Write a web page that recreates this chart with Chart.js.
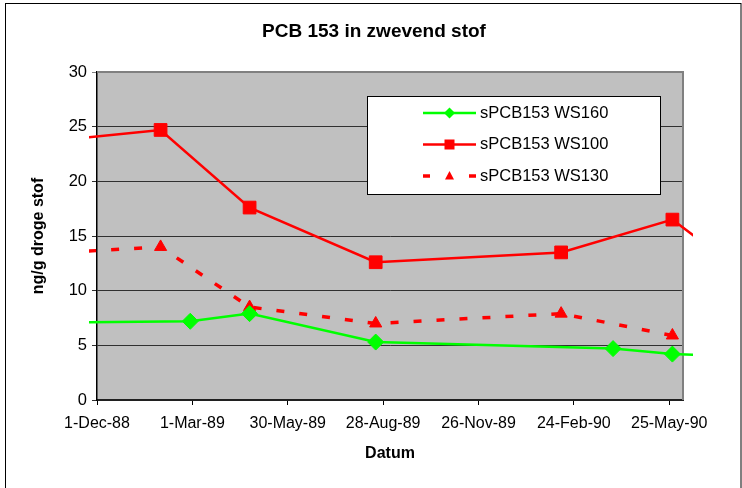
<!DOCTYPE html>
<html>
<head>
<meta charset="utf-8">
<script src="https://cdn.jsdelivr.net/npm/chart.js@4.4.1/dist/chart.umd.min.js"></script>
<style>
  body { margin: 0; background: #fff; }
  canvas { display: block; }
</style>
</head>
<body>
<canvas id="chart" width="742" height="488"></canvas>
<script>
// Series data (dates outside the axis range only give the clipped line ends)
const ws160Dates = ['1988-11-01', '1989-02-27', '1989-04-24', '1989-08-21', '1990-04-02', '1990-05-28', '1990-07-04'];
const ws160Values = [7.1, 7.2, 7.9, 5.3, 4.7, 4.2, 4.1];

const ws100Dates = ['1988-11-01', '1989-01-30', '1989-04-24', '1989-08-21', '1990-02-12', '1990-05-28', '1990-07-04'];
const ws100Values = [23.8, 24.7, 17.6, 12.6, 13.5, 16.5, 13.8];

const ws130Dates = ['1988-11-01', '1989-01-30', '1989-04-24', '1989-08-21', '1990-02-12', '1990-05-28'];
const ws130Values = [13.5, 14.0, 8.5, 7.0, 7.9, 5.9];

const seriesNames = ['sPCB153 WS160', 'sPCB153 WS100', 'sPCB153 WS130'];

// Axis
const xTickDates = ['1988-12-01', '1989-03-01', '1989-05-30', '1989-08-28', '1989-11-26', '1990-02-24', '1990-05-25'];
const xTickLabels = ['1-Dec-88', '1-Mar-89', '30-May-89', '28-Aug-89', '26-Nov-89', '24-Feb-90', '25-May-90'];
const xMinDate = '1988-12-01';
const xMaxDate = '1990-06-07';

const FONT = 'Arial, "Liberation Sans", sans-serif';

function toTime(s) {
    return Date.parse(s + 'T00:00:00Z');
}

function toPoints(dates, values) {
    return dates.map((d, i) => ({ x: toTime(d), y: values[i] }));
}

const xMin = toTime(xMinDate);
const xMax = toTime(xMaxDate);

// hide markers for points that lie outside the axis range
function markerRadius(r) {
    return ctx => {
        const p = ctx.raw;
        if (!p || p.x < xMin || p.x > xMax) return 0;
        return r;
    };
}

const lineClip = { left: 8, top: 0, right: 10, bottom: 0 };

// Background, outer frame and plot area
const framePlugin = {
    id: 'frame',
    beforeDraw(chart) {
        const ctx = chart.ctx;
        const a = chart.chartArea;
        ctx.save();
        ctx.fillStyle = '#ffffff';
        ctx.fillRect(0, 0, chart.width, chart.height);
        ctx.strokeStyle = '#000000';
        ctx.lineWidth = 1;
        ctx.strokeRect(5.5, 3.5, 735.5, 500);
        ctx.fillStyle = '#C0C0C0';
        ctx.fillRect(a.left, a.top, a.right - a.left, a.bottom - a.top);
        ctx.restore();
    },
    beforeDatasetsDraw(chart) {
        const ctx = chart.ctx;
        const a = chart.chartArea;
        ctx.save();
        ctx.strokeStyle = '#808080';
        ctx.lineWidth = 2;
        ctx.beginPath();
        ctx.moveTo(a.left, a.top);
        ctx.lineTo(a.right, a.top);
        ctx.lineTo(a.right, a.bottom);
        ctx.stroke();
        ctx.restore();
    },
    afterDraw(chart) {
        const ctx = chart.ctx;
        ctx.save();
        // title
        ctx.fillStyle = '#000000';
        ctx.font = 'bold 19px ' + FONT;
        ctx.textAlign = 'center';
        ctx.textBaseline = 'middle';
        ctx.fillText('PCB 153 in zwevend stof', 374, 32);

        // legend
        const box = { x: 367.5, y: 96.5, w: 293, h: 98 };
        ctx.fillStyle = '#ffffff';
        ctx.fillRect(box.x, box.y, box.w, box.h);
        ctx.strokeStyle = '#000000';
        ctx.lineWidth = 1;
        ctx.strokeRect(box.x, box.y, box.w, box.h);

        const rows = [113, 144.5, 176];
        const x0 = 423, x1 = 476, xm = 449.5;
        chart.data.datasets.forEach((ds, i) => {
            const y = rows[i];
            ctx.strokeStyle = ds.borderColor;
            ctx.fillStyle = ds.borderColor;
            ctx.lineWidth = ds.borderWidth;
            ctx.beginPath();
            if (ds.borderDash) {
                ctx.moveTo(x0, y);
                ctx.lineTo(x0 + 7, y);
                ctx.moveTo(x1 - 7, y);
                ctx.lineTo(x1, y);
            } else {
                ctx.moveTo(x0, y);
                ctx.lineTo(x1, y);
            }
            ctx.stroke();
            ctx.beginPath();
            if (ds.pointStyle === 'rectRot') {
                ctx.moveTo(xm, y - 5.5);
                ctx.lineTo(xm + 5.5, y);
                ctx.lineTo(xm, y + 5.5);
                ctx.lineTo(xm - 5.5, y);
            } else if (ds.pointStyle === 'rect') {
                ctx.rect(xm - 5, y - 5, 10, 10);
            } else {
                ctx.moveTo(xm, y - 5);
                ctx.lineTo(xm + 4.5, y + 3.5);
                ctx.lineTo(xm - 4.5, y + 3.5);
            }
            ctx.closePath();
            ctx.fill();

            ctx.fillStyle = '#000000';
            ctx.font = '16.5px ' + FONT;
            ctx.textAlign = 'left';
            ctx.textBaseline = 'middle';
            ctx.fillText(ds.label, 480, y);
        });
        ctx.restore();
    }
};

const ctx = document.getElementById('chart').getContext('2d');
const chart = new Chart(ctx, {
    type: 'line',
    data: {
        datasets: [
            {
                label: seriesNames[0],
                data: toPoints(ws160Dates, ws160Values),
                borderColor: '#00FF00',
                backgroundColor: '#00FF00',
                borderWidth: 2.5,
                pointStyle: 'rectRot',
                pointRadius: markerRadius(8),
                pointBorderWidth: 1,
                clip: lineClip
            },
            {
                label: seriesNames[1],
                data: toPoints(ws100Dates, ws100Values),
                borderColor: '#FF0000',
                backgroundColor: '#FF0000',
                borderWidth: 2.5,
                pointStyle: 'rect',
                pointRadius: markerRadius(9),
                pointBorderWidth: 1,
                clip: lineClip
            },
            {
                label: seriesNames[2],
                data: toPoints(ws130Dates, ws130Values),
                borderColor: '#FF0000',
                backgroundColor: '#FF0000',
                borderWidth: 3.5,
                borderDash: [8, 15],
                pointStyle: 'triangle',
                pointRadius: markerRadius(7),
                pointBorderWidth: 1,
                clip: lineClip
            }
        ]
    },
    options: {
        responsive: false,
        animation: false,
        devicePixelRatio: 1,
        layout: { padding: { left: 0, top: 72, right: 59, bottom: 0 } },
        elements: { line: { tension: 0 } },
        plugins: {
            legend: { display: false },
            title: { display: false },
            tooltip: { enabled: false }
        },
        scales: {
            x: {
                type: 'linear',
                min: xMin,
                max: xMax,
                afterFit: scale => { scale.height = 88; },
                afterBuildTicks: scale => {
                    scale.ticks = xTickDates.map(d => ({ value: toTime(d) }));
                },
                ticks: {
                    autoSkip: false,
                    maxRotation: 0,
                    padding: 9,
                    color: '#000000',
                    font: { family: FONT, size: 16 },
                    callback: (value, index) => xTickLabels[index]
                },
                grid: {
                    drawOnChartArea: false,
                    drawTicks: true,
                    tickLength: 5,
                    color: '#000000'
                },
                border: { color: '#202020', width: 2 },
                title: {
                    display: true,
                    text: 'Datum',
                    color: '#000000',
                    font: { family: FONT, size: 16, weight: 'bold' },
                    padding: { top: 0, bottom: 25 }
                }
            },
            y: {
                min: 0,
                max: 30,
                afterFit: scale => { scale.width = 97; },
                ticks: {
                    stepSize: 5,
                    padding: 5,
                    color: '#000000',
                    font: { family: FONT, size: 16.5 }
                },
                grid: {
                    tickLength: 5,
                    color: c => (c.tick && c.tick.value === 30 ? '#808080' : '#303030'),
                    lineWidth: 1
                },
                border: { color: '#000000', width: 1.5 },
                title: {
                    display: true,
                    text: 'ng/g droge stof',
                    color: '#000000',
                    font: { family: FONT, size: 16, weight: 'bold' },
                    padding: { top: 29, bottom: 0 }
                }
            }
        }
    },
    plugins: [framePlugin]
});
</script>
</body>
</html>
